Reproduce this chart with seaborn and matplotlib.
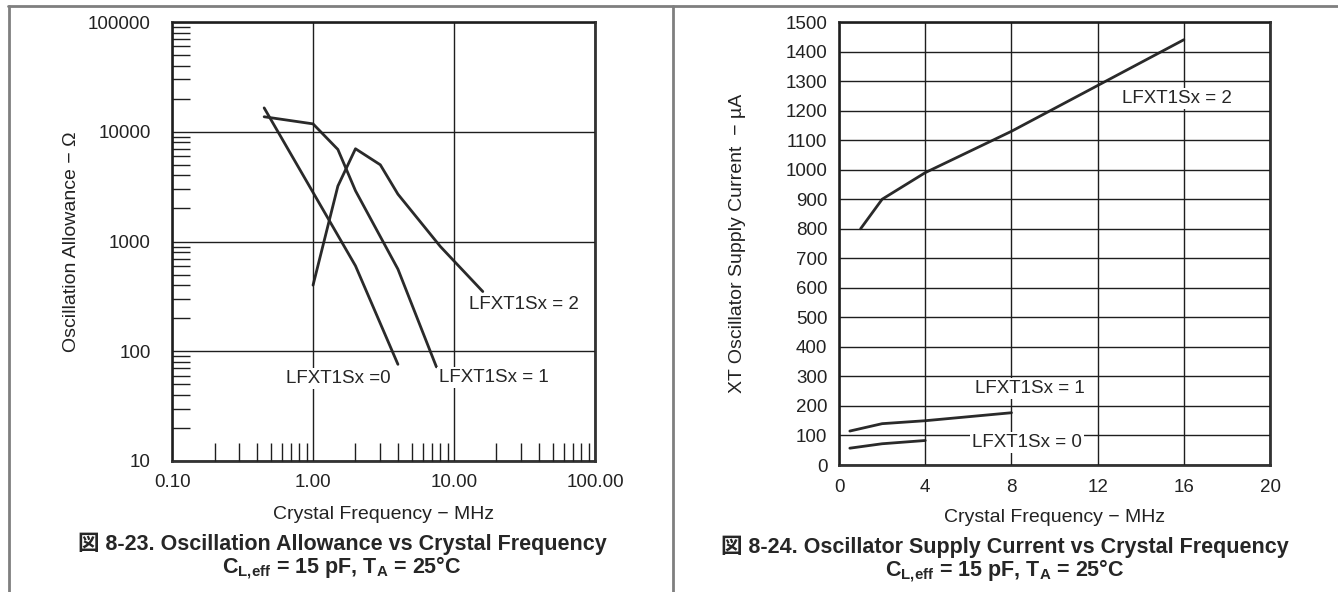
import matplotlib
matplotlib.use("Agg")
import matplotlib.pyplot as plt
from matplotlib import font_manager
from matplotlib.lines import Line2D
from matplotlib.ticker import LogLocator, FixedLocator, NullFormatter
import pandas as pd
import seaborn as sns

# Fig 8-23: oscillation allowance (ohm) vs crystal frequency (MHz), log-log
freq_a0 = [0.45, 1.0, 2.0, 4.0]
allow_a0 = [16500, 2800, 600, 76]
freq_a1 = [0.45, 1.0, 1.5, 2.0, 4.0, 7.5]
allow_a1 = [13700, 11800, 6900, 2900, 560, 72]
freq_a2 = [1.0, 1.5, 2.0, 3.0, 4.0, 8.0, 16.0]
allow_a2 = [400, 3200, 7000, 5000, 2700, 900, 350]

# Fig 8-24: supply current (uA) vs crystal frequency (MHz)
freq_c0 = [0.5, 2.0, 4.0]
curr_c0 = [57, 72, 83]
freq_c1 = [0.5, 2.0, 4.0, 8.0]
curr_c1 = [115, 140, 150, 177]
freq_c2 = [1.0, 2.0, 4.0, 8.0, 16.0]
curr_c2 = [800, 900, 990, 1130, 1440]

series_names = ["LFXT1Sx = 0", "LFXT1Sx = 1", "LFXT1Sx = 2"]
log_xticks = [0.1, 1, 10, 100]
log_xlabels = ["0.10", "1.00", "10.00", "100.00"]
log_yticks = [10, 100, 1000, 10000, 100000]
lin_xticks = [0, 4, 8, 12, 16, 20]
lin_yticks = list(range(0, 1501, 100))


def pick_font(names):
    have = {f.name for f in font_manager.fontManager.ttflist}
    for n in names:
        if n in have:
            return n
    return "DejaVu Sans"


def to_long(xs, ys, labels, xname, yname):
    rows = []
    for x, y, lab in zip(xs, ys, labels):
        for a, b in zip(x, y):
            rows.append({xname: a, yname: b, "mode": lab})
    return pd.DataFrame(rows)


sns.set_theme(style="white")
narrow = pick_font(["Liberation Sans Narrow", "Arial Narrow", "Liberation Sans"])
plt.rcParams["font.family"] = [narrow, "Noto Sans CJK JP", "DejaVu Sans"]
plt.rcParams["mathtext.fontset"] = "custom"
plt.rcParams["mathtext.rm"] = narrow
plt.rcParams["mathtext.bf"] = narrow + ":bold"

df_a = to_long([freq_a0, freq_a1, freq_a2], [allow_a0, allow_a1, allow_a2],
               series_names, "freq", "allow")
df_c = to_long([freq_c0, freq_c1, freq_c2], [curr_c0, curr_c1, curr_c2],
               series_names, "freq", "curr")

line_col = "#2a2a2a"
spine_col = "#333333"
grid_col = "#1e1e1e"
text_col = "#222222"
tick_fs = 13.5
label_fs = 14
cap_fs = 15.5

fig = plt.figure(figsize=(13.38, 5.92), dpi=100)
ax1 = fig.add_axes([0.1286, 0.2213, 0.3161, 0.7415])
ax2 = fig.add_axes([0.6271, 0.2145, 0.3221, 0.7483])

# ---- left: log-log chart
sns.lineplot(data=df_a, x="freq", y="allow", units="mode", estimator=None,
             color=line_col, linewidth=2.0, ax=ax1, legend=False)
ax1.set_xscale("log")
ax1.set_yscale("log")
ax1.set_xlim(0.1, 100)
ax1.set_ylim(10, 100000)
ax1.xaxis.set_major_locator(FixedLocator(log_xticks))
ax1.set_xticklabels(log_xlabels)
ax1.yaxis.set_major_locator(FixedLocator(log_yticks))
ax1.set_yticklabels([str(v) for v in log_yticks])
ax1.xaxis.set_minor_locator(LogLocator(base=10, subs=range(2, 10), numticks=20))
ax1.yaxis.set_minor_locator(LogLocator(base=10, subs=range(2, 10), numticks=20))
ax1.xaxis.set_minor_formatter(NullFormatter())
ax1.yaxis.set_minor_formatter(NullFormatter())
ax1.tick_params(which="major", length=0, labelsize=tick_fs, colors=text_col)
ax1.tick_params(axis="x", which="major", pad=9.5)
ax1.tick_params(axis="y", which="major", pad=15.5)
ax1.tick_params(which="minor", direction="in", length=13, width=1.0, color=grid_col,
                bottom=True, left=True, top=False, right=False)
ax1.grid(True, which="major", color=grid_col, linewidth=1.0)
ax1.set_xlabel("Crystal Frequency − MHz", fontsize=label_fs, labelpad=11, color=text_col)
ax1.set_ylabel("Oscillation Allowance − Ω", fontsize=label_fs, labelpad=5.5, color=text_col)

box = dict(facecolor="white", edgecolor="none", pad=1.5)
ax1.text(31.3, 267, series_names[2], ha="center", va="center", fontsize=tick_fs, bbox=box)
ax1.text(1.5, 56, "LFXT1Sx =0", ha="center", va="center", fontsize=tick_fs, bbox=box)
ax1.text(19.2, 58, series_names[1], ha="center", va="center", fontsize=tick_fs, bbox=box)

# ---- right: linear chart
sns.lineplot(data=df_c, x="freq", y="curr", units="mode", estimator=None,
             color=line_col, linewidth=2.0, ax=ax2, legend=False)
ax2.set_xlim(0, 20)
ax2.set_ylim(0, 1500)
ax2.set_xticks(lin_xticks)
ax2.set_yticks(lin_yticks)
ax2.tick_params(which="major", length=0, labelsize=tick_fs, colors=text_col)
ax2.tick_params(axis="x", which="major", pad=10)
ax2.tick_params(axis="y", which="major", pad=8.5)
ax2.grid(True, which="major", color=grid_col, linewidth=1.0)
ax2.set_xlabel("Crystal Frequency − MHz", fontsize=label_fs, labelpad=9.5, color=text_col)
ax2.set_ylabel("XT Oscillator Supply Current  − µA", fontsize=label_fs, labelpad=28,
               color=text_col)
ax2.text(15.66, 1242, series_names[2], ha="center", va="center", fontsize=tick_fs, bbox=box)
ax2.text(8.87, 258, series_names[1], ha="center", va="center", fontsize=tick_fs, bbox=box)
ax2.text(8.73, 75, series_names[0], ha="center", va="center", fontsize=tick_fs, bbox=box)

for ax in (ax1, ax2):
    for s in ax.spines.values():
        s.set_visible(True)
        s.set_color(spine_col)
        s.set_linewidth(2.0)
    ax.set_axisbelow(False)

# captions
sub_line = r"$\mathbf{C_{L{,}eff}}$ = 15 pF, $\mathbf{T_A}$ = 25°C"
fig.text(342 / 1338, 1 - 544 / 592, "図 8-23. Oscillation Allowance vs Crystal Frequency",
         ha="center", va="center", fontsize=cap_fs, fontweight="bold")
fig.text(342 / 1338, 1 - 568 / 592, sub_line,
         ha="center", va="center", fontsize=cap_fs, fontweight="bold")
fig.text(1005 / 1338, 1 - 547 / 592, "図 8-24. Oscillator Supply Current vs Crystal Frequency",
         ha="center", va="center", fontsize=cap_fs, fontweight="bold")
fig.text(1005 / 1338, 1 - 571 / 592, sub_line,
         ha="center", va="center", fontsize=cap_fs, fontweight="bold")

# panel frame lines
frame = dict(color="#7f7f7f", linewidth=2.0, transform=fig.transFigure)
fig.add_artist(Line2D([8 / 1338, 1.0], [1 - 6 / 592] * 2, **frame))
fig.add_artist(Line2D([9 / 1338] * 2, [0, 1 - 6 / 592], **frame))
fig.add_artist(Line2D([673 / 1338] * 2, [0, 1 - 6 / 592], **frame))

fig.savefig("out.png", dpi=100)
